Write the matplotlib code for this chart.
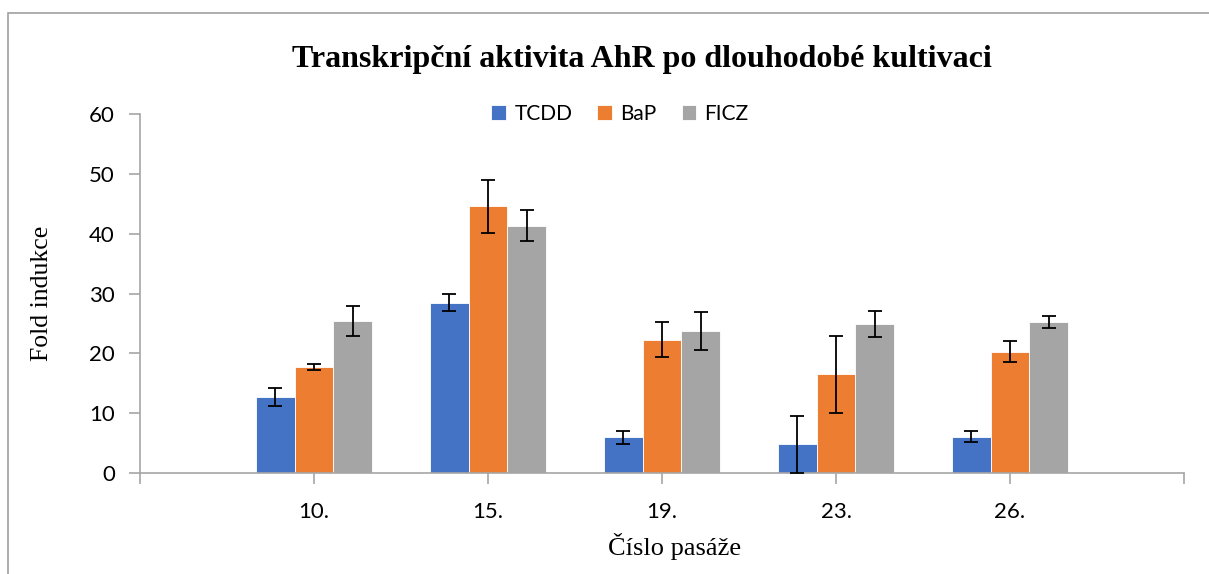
import matplotlib.pyplot as plt
from matplotlib.patches import Rectangle
import numpy as np

passages = ['10.', '15.', '19.', '23.', '26.']
series = ['TCDD', 'BaP', 'FICZ']
tcdd = [12.65, 28.45, 5.95, 4.8, 6.1]
tcdd_err = [1.5, 1.45, 1.05, 4.8, 0.9]
bap = [17.7, 44.6, 22.3, 16.5, 20.3]
bap_err = [0.5, 4.45, 2.9, 6.4, 1.7]
ficz = [25.35, 41.35, 23.7, 24.95, 25.3]
ficz_err = [2.5, 2.6, 3.2, 2.15, 1.0]
colors = ['#4472C4', '#ED7D31', '#A5A5A5']

fig = plt.figure(figsize=(12.09, 5.74), dpi=100)
ax = fig.add_axes([140/1209, 1-473/574, (1184-140)/1209, (473-114)/574])

# chart frame (gray border, partly cut off like the screenshot)
fig.patches.append(Rectangle((8/1209, -0.1), 1.2, 1-13/574+0.1, transform=fig.transFigure,
                             fill=False, edgecolor='#a0a0a0', linewidth=1.2))

x = np.arange(1, len(passages)+1)
w = 0.222
data = [(tcdd, tcdd_err), (bap, bap_err), (ficz, ficz_err)]
for i, (vals, errs) in enumerate(data):
    ax.bar(x + (i-1)*w, vals, w, color=colors[i], edgecolor='white', linewidth=0.6,
           label=series[i], zorder=2)
    ax.errorbar(x + (i-1)*w, vals, yerr=errs, fmt='none', ecolor='black',
                elinewidth=1.3, capsize=5, capthick=1.3, zorder=3)

ax.set_xlim(0, 6)
ax.set_ylim(0, 60)
ax.set_yticks(range(0, 61, 10))
ax.set_xticks(range(0, 7))
ax.set_xticklabels([''] + passages + [''])
for s in ['top', 'right']:
    ax.spines[s].set_visible(False)
for s in ['left', 'bottom']:
    ax.spines[s].set_color('#a6a6a6')
    ax.spines[s].set_linewidth(1.2)
ax.tick_params(axis='both', direction='out', color='#a6a6a6', width=1.2, length=8,
               labelsize=16)
ax.tick_params(axis='x', pad=13)
ax.tick_params(axis='y', pad=10)
for lab in ax.get_xticklabels() + ax.get_yticklabels():
    lab.set_fontfamily('Lato')

fig.text(642/1209, 1-60/574, 'Transkripční aktivita AhR po dlouhodobé kultivaci',
         ha='center', va='center', fontsize=23, fontweight='bold', family='Liberation Serif')
fig.text(42/1209, 1-293/574, 'Fold indukce', rotation=90, ha='center', va='center',
         fontsize=18.5, family='Liberation Serif')
fig.text(675/1209, 1-547/574, 'Číslo pasáže', ha='center', va='center',
         fontsize=19, family='Liberation Serif')

fig.legend(loc='center', bbox_to_anchor=(620/1209, 1-114/574), ncol=3, frameon=False,
           prop={'family': 'Lato', 'size': 15}, handlelength=0.7, handleheight=0.7,
           handletextpad=0.4, columnspacing=1.2)

fig.savefig('out.png', dpi=100)
